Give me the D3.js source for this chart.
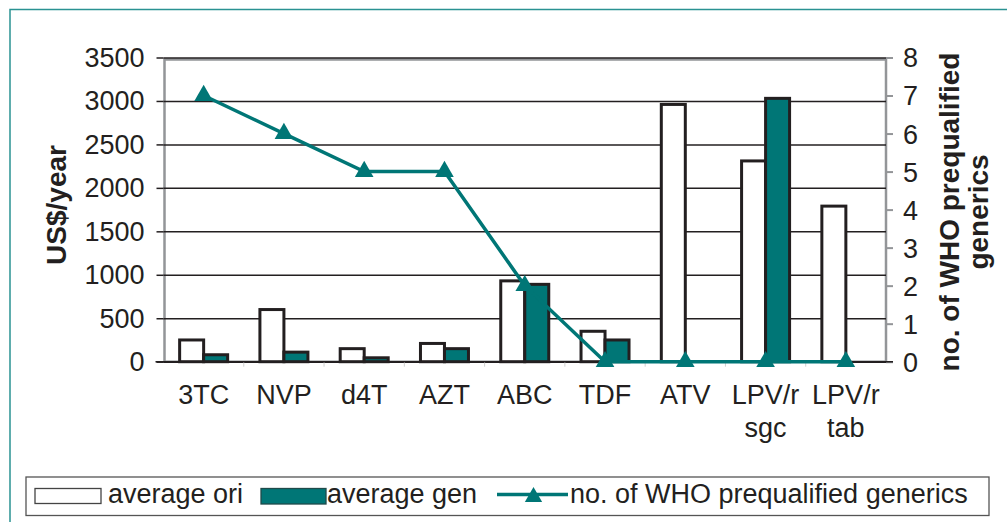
<!DOCTYPE html>
<html>
<head>
<meta charset="utf-8">
<script src="https://cdn.jsdelivr.net/npm/d3@7/dist/d3.min.js"></script>
<style>
  html, body { margin: 0; padding: 0; background: #fff; }
  svg { display: block; font-family: "Liberation Sans", Arial, sans-serif; }
</style>
</head>
<body>
<svg id="chart" width="1007" height="522"></svg>
<script>
// ---- data ----
const categories = ["3TC", "NVP", "d4T", "AZT", "ABC", "TDF", "ATV", "LPV/r sgc", "LPV/r tab"];
const averageOri = [250, 600, 150, 210, 930, 350, 2960, 2310, 1790];
const averageGen = [80, 110, 45, 150, 890, 250, 0, 3030, 0];
const whoGenerics = [7, 6, 5, 5, 2, 0, 0, 0, 0];
const leftTicks = [0, 500, 1000, 1500, 2000, 2500, 3000, 3500];
const rightTicks = [0, 1, 2, 3, 4, 5, 6, 7, 8];
const seriesNames = ["average ori", "average gen", "no. of WHO prequalified generics"];

// ---- layout ----
const svg = d3.select("#chart");
const L = 163.5, R = 886, T = 57.5, B = 361.7;
const teal = "#007676";
const ink = "#231f20";
const gray = "#939598";
const FS = 27;

// outer frame
svg.append("rect").attr("x", 10).attr("y", 9.5).attr("width", 1100).attr("height", 600)
  .attr("fill", "none").attr("stroke", "#2a9292").attr("stroke-width", 1.5);

const x = d3.scaleBand().domain(categories).range([L, R]).padding(0);
const xs = d3.scaleBand().domain(["ori", "gen"]).range([x.bandwidth() / 2 - 24, x.bandwidth() / 2 + 24]);
const y = d3.scaleLinear().domain([0, 3500]).range([B, T]);
const y2 = d3.scaleLinear().domain([0, 8]).range([B, T]);

// plot border (gray)
svg.append("rect").attr("x", L + 1).attr("y", T + 2).attr("width", R - L - 1).attr("height", B - T - 2)
  .attr("fill", "none").attr("stroke", gray).attr("stroke-width", 2.5);

// gridlines
const grid = svg.append("g").attr("transform", `translate(${L},0)`)
  .call(d3.axisLeft(y).tickValues(leftTicks).tickSize(-(R - L)).tickFormat(""));
grid.select(".domain").remove();
grid.selectAll("line").attr("stroke", ink).attr("stroke-width", 1.5);

// left axis
const la = svg.append("g").attr("transform", `translate(${L},0)`)
  .call(d3.axisLeft(y).tickValues(leftTicks).tickSize(7).tickPadding(12).tickFormat(d3.format("d")));
la.select(".domain").remove();
la.selectAll("line").attr("stroke", ink).attr("stroke-width", 1.5);
la.selectAll("text").attr("font-size", FS).attr("fill", ink).attr("font-family", "Liberation Sans, Arial, sans-serif").attr("dy", "0.33em");

// right axis
const ra = svg.append("g").attr("transform", `translate(${R},0)`)
  .call(d3.axisRight(y2).tickValues(rightTicks).tickSize(7).tickPadding(10).tickFormat(d3.format("d")));
ra.select(".domain").remove();
ra.selectAll("line").attr("stroke", gray).attr("stroke-width", 2);
ra.selectAll("text").attr("font-size", FS).attr("fill", ink).attr("font-family", "Liberation Sans, Arial, sans-serif").attr("dy", "0.35em");

// category ticks
svg.append("g").selectAll("line").data(categories.slice(1)).join("line")
  .attr("x1", d => x(d)).attr("x2", d => x(d)).attr("y1", B).attr("y2", B + 5)
  .attr("stroke", "#cfcfcf").attr("stroke-width", 1);

// bars
const bars = svg.append("g");
categories.forEach((c, i) => {
  const g = bars.append("g").attr("transform", `translate(${x(c)},0)`);
  g.append("rect").attr("x", xs("ori")).attr("width", xs.bandwidth())
    .attr("y", y(averageOri[i])).attr("height", B - y(averageOri[i]))
    .attr("fill", "#fff").attr("stroke", ink).attr("stroke-width", 3);
  if (averageGen[i] > 0) {
    g.append("rect").attr("x", xs("gen")).attr("width", xs.bandwidth())
      .attr("y", y(averageGen[i])).attr("height", B - y(averageGen[i]))
      .attr("fill", teal).attr("stroke", ink).attr("stroke-width", 3);
  }
});

// zero axis line
svg.append("line").attr("x1", L - 8).attr("x2", R + 7).attr("y1", B).attr("y2", B)
  .attr("stroke", ink).attr("stroke-width", 1.6);

// x labels
const xl = svg.append("g");
categories.forEach(c => {
  const t = xl.append("text").attr("x", x(c) + x.bandwidth() / 2).attr("y", 404)
    .attr("text-anchor", "middle").attr("font-size", FS).attr("fill", ink);
  c.split(" ").forEach((part, k) => {
    t.append("tspan").attr("x", x(c) + x.bandwidth() / 2).attr("dy", k === 0 ? 0 : 33).text(part);
  });
});

// line series
const cx = c => x(c) + x.bandwidth() / 2;
const lineGen = d3.line().x((d, i) => cx(categories[i])).y(d => y2(d));
svg.append("path").datum(whoGenerics).attr("d", lineGen)
  .attr("fill", "none").attr("stroke", teal).attr("stroke-width", 3.5);
const tri = d3.symbol().type(d3.symbolTriangle).size(150);
svg.append("g").selectAll("path").data(whoGenerics).join("path")
  .attr("transform", (d, i) => `translate(${cx(categories[i])},${y2(d)})`)
  .attr("d", tri).attr("fill", teal);

// axis titles
svg.append("text").attr("transform", "translate(66,205) rotate(-90)")
  .attr("text-anchor", "middle").attr("font-size", 28).attr("font-weight", "bold").attr("fill", ink)
  .text("US$/year");
const rt = svg.append("text").attr("transform", "translate(959,212) rotate(-90)")
  .attr("text-anchor", "middle").attr("font-size", 28).attr("font-weight", "bold").attr("fill", ink);
rt.append("tspan").attr("x", 0).attr("dy", 0).text("no. of WHO prequalified");
rt.append("tspan").attr("x", 0).attr("dy", 29).text("generics");

// legend
const lg = svg.append("g");
lg.append("rect").attr("x", 26).attr("y", 477).attr("width", 963).attr("height", 38.5)
  .attr("fill", "#fff").attr("stroke", "#555").attr("stroke-width", 1.3);
lg.append("rect").attr("x", 35).attr("y", 488.5).attr("width", 66).attr("height", 15)
  .attr("fill", "#fff").attr("stroke", "#444").attr("stroke-width", 1.3);
lg.append("text").attr("x", 108).attr("y", 503).attr("font-size", FS).attr("fill", ink).text(seriesNames[0]);
lg.append("rect").attr("x", 261).attr("y", 488.5).attr("width", 65).attr("height", 15.5)
  .attr("fill", teal).attr("stroke", "#1f4a4a").attr("stroke-width", 1.3);
lg.append("text").attr("x", 327).attr("y", 503).attr("font-size", FS).attr("fill", ink).text(seriesNames[1]);
lg.append("line").attr("x1", 497).attr("x2", 568).attr("y1", 494.5).attr("y2", 494.5)
  .attr("stroke", teal).attr("stroke-width", 3.5);
lg.append("path").attr("transform", "translate(533.5,497)").attr("d", d3.symbol().type(d3.symbolTriangle).size(130)).attr("fill", teal);
lg.append("text").attr("x", 570).attr("y", 503).attr("font-size", FS).attr("fill", ink).text(seriesNames[2]);
</script>
</body>
</html>
